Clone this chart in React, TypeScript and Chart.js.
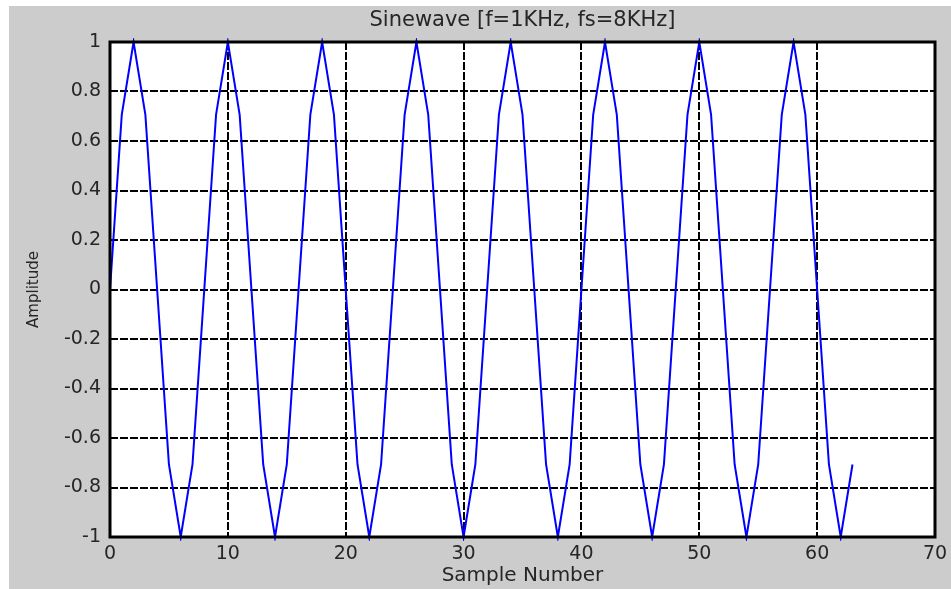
import React, { useEffect, useRef } from "react";
import { Chart, registerables } from "chart.js";

Chart.register(...registerables);

const titleText = "Sinewave [f=1KHz, fs=8KHz]";
const xTitle = "Sample Number";
const yTitle = "Amplitude";

const samples: number[] = [
  0, 1, 2, 3, 4, 5, 6, 7, 8, 9, 10, 11, 12, 13, 14, 15,
  16, 17, 18, 19, 20, 21, 22, 23, 24, 25, 26, 27, 28, 29, 30, 31,
  32, 33, 34, 35, 36, 37, 38, 39, 40, 41, 42, 43, 44, 45, 46, 47,
  48, 49, 50, 51, 52, 53, 54, 55, 56, 57, 58, 59, 60, 61, 62, 63,
];

const amplitude: number[] = [
  0, 0.7071, 1, 0.7071, 0, -0.7071, -1, -0.7071,
  0, 0.7071, 1, 0.7071, 0, -0.7071, -1, -0.7071,
  0, 0.7071, 1, 0.7071, 0, -0.7071, -1, -0.7071,
  0, 0.7071, 1, 0.7071, 0, -0.7071, -1, -0.7071,
  0, 0.7071, 1, 0.7071, 0, -0.7071, -1, -0.7071,
  0, 0.7071, 1, 0.7071, 0, -0.7071, -1, -0.7071,
  0, 0.7071, 1, 0.7071, 0, -0.7071, -1, -0.7071,
  0, 0.7071, 1, 0.7071, 0, -0.7071, -1, -0.7071,
];

const xTickValues: number[] = [0, 10, 20, 30, 40, 50, 60, 70];
const yTickValues: number[] = [-1, -0.8, -0.6, -0.4, -0.2, 0, 0.2, 0.4, 0.6, 0.8, 1];
const yTickLabels: string[] = ["-1", "-0.8", "-0.6", "-0.4", "-0.2", "0", "0.2", "0.4", "0.6", "0.8", "1"];

const FONT = "'DejaVu Sans', sans-serif";
const TEXT = "#262626";

const framePlugin = {
  id: "frame",
  beforeDraw(chart: any) {
    const { ctx, chartArea: a } = chart;
    ctx.save();
    ctx.fillStyle = "#fff";
    ctx.fillRect(a.left, a.top, a.right - a.left, a.bottom - a.top);
    ctx.restore();
  },
  beforeDatasetsDraw(chart: any) {
    const { ctx, chartArea: a } = chart;
    const xs = chart.scales.x;
    const ys = chart.scales.y;
    ctx.save();
    ctx.beginPath();
    ctx.rect(a.left, a.top, a.right - a.left, a.bottom - a.top);
    ctx.clip();
    ctx.strokeStyle = "#000";
    ctx.lineWidth = 2;
    ctx.setLineDash([8, 2]);
    ctx.beginPath();
    for (const v of yTickValues) {
      const py = Math.round(ys.getPixelForValue(v));
      ctx.moveTo(a.left, py);
      ctx.lineTo(a.right, py);
    }
    for (const v of xTickValues) {
      const px = Math.round(xs.getPixelForValue(v));
      ctx.moveTo(px, a.top);
      ctx.lineTo(px, a.bottom);
    }
    ctx.stroke();
    ctx.restore();
  },
  afterDraw(chart: any) {
    const { ctx, chartArea: a } = chart;
    ctx.save();
    ctx.strokeStyle = "#000";
    ctx.lineWidth = 3;
    ctx.strokeRect(a.left, a.top, a.right - a.left, a.bottom - a.top);
    ctx.fillStyle = TEXT;
    ctx.font = `21px ${FONT}`;
    ctx.textAlign = "center";
    ctx.textBaseline = "middle";
    ctx.fillText(titleText, (a.left + a.right) / 2, 15);
    ctx.restore();
  },
};

export default function App() {
  const ref = useRef<HTMLCanvasElement | null>(null);

  useEffect(() => {
    if (!ref.current) return;
    const chart = new Chart(ref.current, {
      type: "line",
      data: {
        datasets: [
          {
            data: samples.map((x, i) => ({ x, y: amplitude[i] })),
            borderColor: "#0000ff",
            borderWidth: 2,
            pointRadius: 0,
            tension: 0,
            fill: false,
            clip: 4,
          },
        ],
      },
      options: {
        animation: false,
        responsive: false,
        maintainAspectRatio: false,
        layout: { padding: { top: 36, right: 16, left: 0, bottom: 0 } },
        plugins: {
          legend: { display: false },
          tooltip: { enabled: false },
          title: { display: false },
        },
        scales: {
          x: {
            type: "linear",
            min: 0,
            max: 70,
            afterBuildTicks: (scale: any) => {
              scale.ticks = xTickValues.map((v) => ({ value: v }));
            },
            afterFit: (scale: any) => {
              scale.height = 52;
              scale.paddingLeft = 0;
              scale.paddingRight = 0;
            },
            ticks: {
              font: { family: FONT, size: 19 },
              color: TEXT,
              padding: 6,
              maxRotation: 0,
              callback: (v: any) => String(v),
            },
            grid: { display: false, drawTicks: false, tickLength: 0 },
            border: { display: false },
            title: {
              display: true,
              text: xTitle,
              font: { family: FONT, size: 20 },
              color: TEXT,
              padding: { top: 0, bottom: 1 },
            },
          },
          y: {
            type: "linear",
            min: -1,
            max: 1,
            afterBuildTicks: (scale: any) => {
              scale.ticks = yTickValues.map((v) => ({ value: v }));
            },
            afterFit: (scale: any) => {
              scale.width = 101;
              scale.paddingTop = 0;
              scale.paddingBottom = 0;
            },
            ticks: {
              font: { family: FONT, size: 19 },
              color: TEXT,
              padding: 9,
              callback: (v: any) => {
                const i = yTickValues.findIndex((t) => Math.abs(t - v) < 1e-6);
                return i >= 0 ? yTickLabels[i] : "";
              },
            },
            grid: { display: false, drawTicks: false, tickLength: 0 },
            border: { display: false },
            title: {
              display: true,
              text: yTitle,
              font: { family: FONT, size: 15 },
              color: TEXT,
              padding: { top: 16, bottom: 0 },
            },
          },
        },
      },
      plugins: [framePlugin],
    });
    return () => chart.destroy();
  }, []);

  return (
    <div style={{ position: "absolute", left: 0, top: 0, width: 951, height: 589, background: "#fff" }}>
      <div style={{ position: "absolute", left: 9, top: 6, width: 942, height: 583, background: "#cccccc" }}>
        <canvas ref={ref} width={942} height={583} style={{ display: "block", background: "transparent" }} />
      </div>
    </div>
  );
}
